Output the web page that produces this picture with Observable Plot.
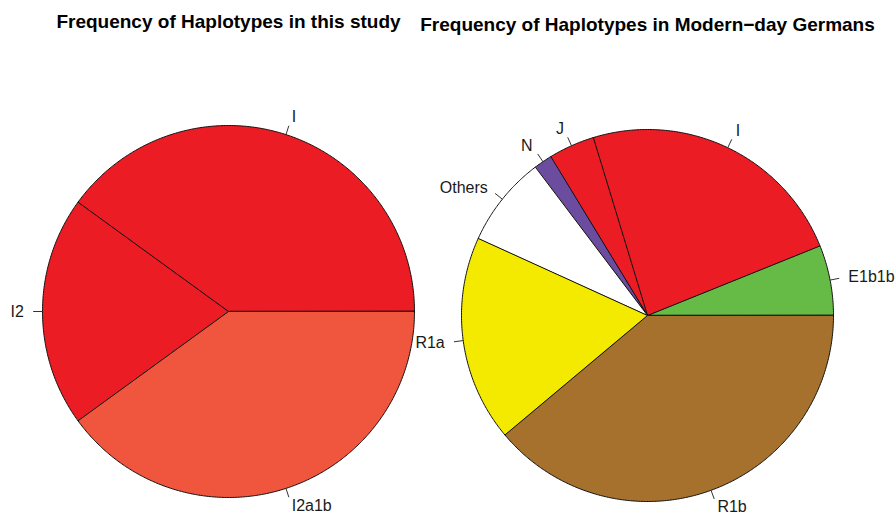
<!DOCTYPE html>
<html>
<head>
<meta charset="utf-8">
<script src="https://cdn.jsdelivr.net/npm/d3@7"></script>
<script src="https://cdn.jsdelivr.net/npm/@observablehq/plot@0.6"></script>
<style>
  html, body { margin: 0; padding: 0; background: #ffffff; }
  #chart { width: 896px; height: 514px; }
</style>
</head>
<body>
<div id="chart"></div>
<script>
// ---- data ----
const titles = ["Frequency of Haplotypes in this study", "Frequency of Haplotypes in Modern\u2212day Germans"];

const studyLabels = ["I", "I2", "I2a1b"];
const studyValues = [40, 20, 40];
const studyColors = ["#EC1C24", "#EC1C24", "#F0553D"];

const germanLabels = ["E1b1b", "I", "J", "N", "Others", "R1a", "R1b"];
const germanValues = [6.1, 23.6, 4.0, 1.6, 7.9, 17.9, 38.9];
const germanColors = ["#66BB47", "#EC1C24", "#EC1C24", "#6B4C9F", "#FFFFFF", "#F4EA00", "#A6712D"];

// ---- layout (pixels) ----
const W = 896, H = 514;
const labelMaxY = H - 8; // keep labels (with their descent) inside the picture
const panels = [
  {cx: 228, cy: 311, r: 186, tx: 228, ty: 21.2, labels: studyLabels, values: studyValues, colors: studyColors, title: titles[0]},
  {cx: 647, cy: 315, r: 186, tx: 647, ty: 24.6, labels: germanLabels, values: germanValues, colors: germanColors, title: titles[1]}
];

// ---- build slice polygons, ticks and labels from the data (R pie style: start at 3 o'clock, counter-clockwise) ----
const slicePts = [], ticks = [], labels = [], titleRows = [];
panels.forEach((p, pi) => {
  const total = d3.sum(p.values);
  let cum = 0;
  p.values.forEach((v, i) => {
    const a0 = 2 * Math.PI * cum / total;
    cum += v;
    const a1 = 2 * Math.PI * cum / total;
    const id = pi + "-" + i;
    const n = Math.max(2, Math.ceil((a1 - a0) * 180 / Math.PI * 2));
    slicePts.push({id, x: p.cx, y: p.cy, color: p.colors[i]});
    for (let k = 0; k <= n; k++) {
      const a = a0 + (a1 - a0) * k / n;
      slicePts.push({id, x: p.cx + p.r * Math.cos(a), y: p.cy - p.r * Math.sin(a), color: p.colors[i]});
    }
    const m = (a0 + a1) / 2;
    const c = Math.cos(m), s = Math.sin(m);
    ticks.push({x1: p.cx + p.r * c, y1: p.cy - p.r * s, x2: p.cx + 1.05 * p.r * c, y2: p.cy - 1.05 * p.r * s});
    labels.push({x: p.cx + 1.1 * p.r * c, y: Math.min(labelMaxY, p.cy - 1.1 * p.r * s), text: p.labels[i], right: c >= 0});
  });
  titleRows.push({x: p.tx, y: p.ty, text: p.title});
});

const font = "'Liberation Sans', Arial, Helvetica, sans-serif";

const chart = Plot.plot({
  width: W,
  height: H,
  margin: 0,
  style: {background: "#ffffff", fontFamily: font},
  x: {domain: [0, W], range: [0, W], axis: null},
  y: {domain: [0, H], range: [0, H], axis: null},
  marks: [
    Plot.line(slicePts, {x: "x", y: "y", z: "id", fill: "color", stroke: "#111", strokeWidth: 1, curve: "linear-closed", strokeLinejoin: "round"}),
    Plot.link(ticks, {x1: "x1", y1: "y1", x2: "x2", y2: "y2", stroke: "#333", strokeWidth: 1}),
    Plot.text(labels.filter(d => d.right), {x: "x", y: "y", text: "text", textAnchor: "start", fontSize: 16, fill: "#1a1a1a"}),
    Plot.text(labels.filter(d => !d.right), {x: "x", y: "y", text: "text", textAnchor: "end", fontSize: 16, fill: "#1a1a1a"}),
    Plot.text(titleRows, {x: "x", y: "y", text: "text", textAnchor: "middle", fontSize: 19, fontWeight: "bold", fill: "#000"})
  ]
});
document.getElementById("chart").appendChild(chart);
</script>
</body>
</html>
